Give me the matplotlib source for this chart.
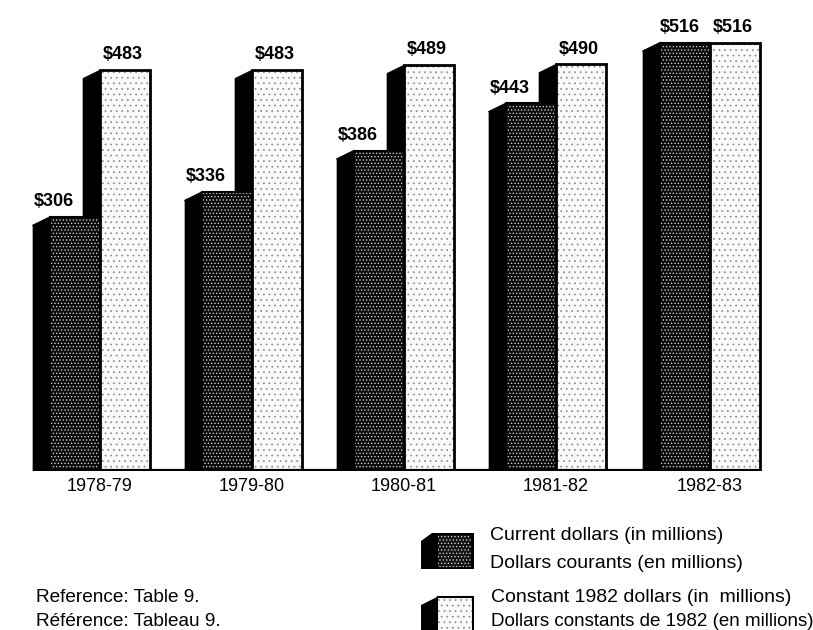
import matplotlib
matplotlib.use("Agg")
import matplotlib.pyplot as plt

years = ["1978-79", "1979-80", "1980-81", "1981-82", "1982-83"]
current = [306, 336, 386, 443, 516]
constant = [483, 483, 489, 490, 516]

# horizontal pixel layout of the bars
group_left = [50, 202, 354, 506, 660]
bar_w = 50
side_w = 17
side_drop = 10  # in dollars, slant of the top of the side face

plt.rcParams['font.family'] = ['Liberation Sans', 'DejaVu Sans']
plt.rcParams['hatch.linewidth'] = 0.5

fig = plt.figure(figsize=(8.13, 6.30), dpi=100)

# bars: x in pixels, y in dollars, baseline at pixel 471
ax = fig.add_axes([0, (630 - 471) / 630, 1, 471 / 630])
ax.set_xlim(0, 813)
ax.set_ylim(0, 471 / 0.83)
ax.patch.set_alpha(0)
for s in ax.spines.values():
    s.set_visible(False)
ax.set_yticks([])

def side_face(a, x, top, drop):
    a.fill([x - side_w, x, x, x - side_w],
           [0, 0, top, top - drop], color='black', lw=0.5, zorder=2)

for i in range(len(years)):
    x = group_left[i]
    # the tall bar's side shows above the dark bar
    side_face(ax, x + bar_w, constant[i], side_drop)
    side_face(ax, x, current[i], side_drop)
    ax.plot([x - side_w, x], [current[i] - side_drop, current[i]], color='black', lw=1, zorder=2)

    ax.bar(x, current[i], bar_w, align='edge', facecolor='#0c0c0c',
           edgecolor='#dddddd', hatch='.....', lw=0, zorder=3)
    ax.bar(x, current[i], bar_w, align='edge', fill=False, edgecolor='black', lw=1.5, zorder=4)

    ax.bar(x + bar_w, constant[i], bar_w, align='edge', facecolor='#fafafa',
           edgecolor='#888888', hatch='...', lw=0, zorder=3)
    ax.bar(x + bar_w, constant[i], bar_w, align='edge', fill=False, edgecolor='black', lw=2, zorder=4)

    if i < 4:
        ax.text(x - side_w + 1, current[i] + 8, "$%d" % current[i], ha='left', va='bottom',
                fontsize=13, fontweight='bold')
    else:
        ax.text(x + 20, current[i] + 8, "$%d" % current[i], ha='center', va='bottom',
                fontsize=13, fontweight='bold')
    ax.text(x + bar_w + 23, constant[i] + 8, "$%d" % constant[i], ha='center', va='bottom',
            fontsize=13, fontweight='bold')

ax.plot([group_left[0] - side_w, group_left[-1] + 2 * bar_w], [0, 0], color='black', lw=3,
        zorder=5, solid_capstyle='butt')

ax.set_xticks([g + bar_w for g in group_left])
ax.set_xticklabels(years, fontsize=13)
ax.tick_params(axis='x', length=0, pad=5)

# legend and notes, pixel coordinates
leg = fig.add_axes([0, 0, 1, 1])
leg.set_xlim(0, 813)
leg.set_ylim(630, 0)
leg.axis('off')
leg.patch.set_alpha(0)

leg.fill([421, 432, 474, 474, 421], [541, 533, 533, 569, 569], color='black', lw=0, zorder=2)
leg.fill([421, 437, 437, 421], [630, 630, 597, 605], color='black', lw=0, zorder=2)
leg.bar(438, 32, 33, bottom=535, align='edge', facecolor='#151515',
        edgecolor='#dddddd', hatch='.....', lw=0, zorder=3)
leg.bar(437, 35, 36, bottom=597, align='edge', facecolor='#fafafa',
        edgecolor='#888888', hatch='...', lw=0, zorder=3)
leg.bar(437, 35, 36, bottom=597, align='edge', fill=False, edgecolor='black', lw=1.5, zorder=4)

leg.text(490, 535, "Current dollars (in millions)", fontsize=14, va='center')
leg.text(490, 563, "Dollars courants (en millions)", fontsize=14, va='center')
leg.text(491, 597, "Constant 1982 dollars (in  millions)", fontsize=14, va='center')
leg.text(491, 622, "Dollars constants de 1982 (en millions)", fontsize=13.5, va='center')
leg.text(36, 598, "Reference: Table 9.", fontsize=13.7, va='center')
leg.text(36, 622, "Référence: Tableau 9.", fontsize=13.7, va='center')

fig.savefig("out.png", dpi=100)
